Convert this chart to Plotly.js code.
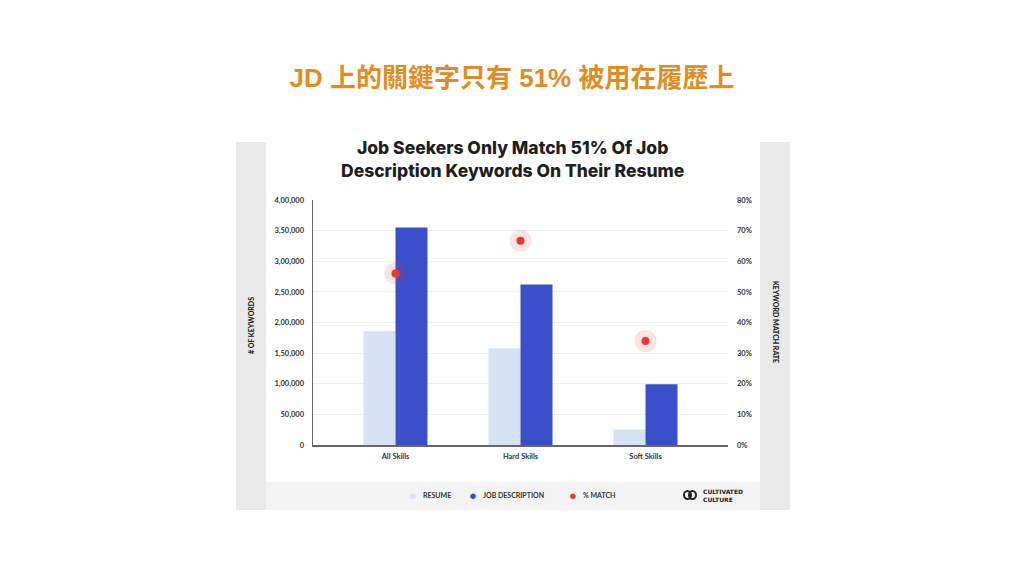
<!DOCTYPE html>
<html><head><meta charset="utf-8">
<script src="https://cdn.plot.ly/plotly-3.0.1.min.js"></script>
<style>html,body{margin:0;padding:0;background:#fff}#chart{width:1024px;height:582px}</style>
</head><body><div id="chart"></div>
<script>
// ---- data ----
const categories = ['All Skills', 'Hard Skills', 'Soft Skills'];
const resumeKeywords = [186000, 158000, 25500];
const jdKeywords = [355000, 262000, 99000];
const matchRate = [56, 66.7, 34];
const leftTickVals = [0, 50000, 100000, 150000, 200000, 250000, 300000, 350000, 400000];
const leftTickText = ['0', '50,000', '1,00,000', '1,50,000', '2,00,000', '2,50,000', '3,00,000', '3,50,000', '4,00,000'];
const rightTickVals = [0, 10, 20, 30, 40, 50, 60, 70, 80];
const rightTickText = ['0%', '10%', '20%', '30%', '40%', '50%', '60%', '70%', '80%'];
const legendLabels = ['RESUME', 'JOB DESCRIPTION', '% MATCH'];

// ---- layout geometry (pixels) ----
const W = 1024, H = 582;
const PL = 313, PR = 728, PT = 200, PB = 445;
const px2x = x => (x - PL) / (PR - PL);
const px2y = y => (PB - y) / (PB - PT);

const cResume = '#d5e3f5', cJD = '#3a4fc8', cMatch = '#e53a30', cHalo = 'rgba(229,58,48,0.14)';
const tickFont = {family: 'Lato, "Open Sans", sans-serif', size: 7.5, color: '#333', weight: 700};
const lblFont = {family: 'Lato, sans-serif', size: 7, color: '#333', weight: 700};

function ann(x, y, text, font, extra) {
  return Object.assign({xref: 'paper', yref: 'paper', x: px2x(x), y: px2y(y), showarrow: false,
    xanchor: 'center', yanchor: 'middle', text: text, font: font}, extra || {});
}

const traces = [
  {type: 'bar', name: legendLabels[0], x: categories, y: resumeKeywords, marker: {color: cResume}, hoverinfo: 'y'},
  {type: 'bar', name: legendLabels[1], x: categories, y: jdKeywords, marker: {color: cJD}, hoverinfo: 'y'},
  {type: 'scatter', mode: 'markers', x: categories, y: matchRate, yaxis: 'y2',
   marker: {size: 22, color: cHalo}, hoverinfo: 'skip', showlegend: false},
  {type: 'scatter', mode: 'markers', name: legendLabels[2], x: categories, y: matchRate, yaxis: 'y2',
   marker: {size: 8, color: cMatch}}
];

const annotations = [
  ann(512, 159, 'Job Seekers Only Match 51% Of Job<br>Description Keywords On Their Resume',
    {family: 'Inter, "Open Sans", sans-serif', size: 17.5, color: '#1f1f1f', weight: 800}),
  ann(251, 326, '# OF KEYWORDS', {family: 'Lato, sans-serif', size: 7, color: '#222', weight: 900}, {textangle: -90}),
  ann(776, 322, 'KEYWORD MATCH RATE', {family: 'Lato, sans-serif', size: 7, color: '#222', weight: 900}, {textangle: 90}),
  // legend
  ann(413, 495, '●', {size: 13, color: cResume}),
  ann(421, 495, legendLabels[0], lblFont, {xanchor: 'left'}),
  ann(473, 495, '●', {size: 13, color: cJD}),
  ann(481, 495, legendLabels[1], lblFont, {xanchor: 'left'}),
  ann(573, 495, '●', {size: 13, color: cMatch}),
  ann(581, 495, legendLabels[2], lblFont, {xanchor: 'left'}),
  ann(701, 495, 'CULTIVATED<br>CULTURE', {family: '"DejaVu Sans", sans-serif', size: 6, color: '#222', weight: 700},
    {xanchor: 'left', align: 'left'})
];

const shapes = [
  {type: 'rect', xref: 'paper', yref: 'paper', layer: 'below', x0: px2x(236), x1: px2x(266), y0: px2y(510), y1: px2y(142), fillcolor: '#e9e9e9', line: {width: 0}},
  {type: 'rect', xref: 'paper', yref: 'paper', layer: 'below', x0: px2x(760), x1: px2x(790), y0: px2y(510), y1: px2y(142), fillcolor: '#e9e9e9', line: {width: 0}},
  {type: 'rect', xref: 'paper', yref: 'paper', layer: 'below', x0: px2x(266), x1: px2x(760), y0: px2y(510), y1: px2y(482), fillcolor: '#f3f3f3', line: {width: 0}},
  // logo glyph
  {type: 'circle', xref: 'paper', yref: 'paper', x0: px2x(684), x1: px2x(691), y0: px2y(499), y1: px2y(491), line: {color: '#222', width: 2}},
  {type: 'circle', xref: 'paper', yref: 'paper', x0: px2x(689), x1: px2x(696), y0: px2y(499), y1: px2y(491), line: {color: '#222', width: 2}}
];

const layout = {
  width: W, height: H,
  paper_bgcolor: '#fff', plot_bgcolor: '#fff',
  margin: {l: PL, r: W - PR, t: PT, b: H - PB, pad: 0},
  showlegend: false,
  title: {text: '<b>JD 上的關鍵字只有 51% 被用在履歷上</b>', x: 0.5, xanchor: 'center', y: 1 - 78 / H, yanchor: 'middle',
    font: {family: '"Liberation Sans", "Noto Sans CJK TC", sans-serif', size: 26, color: '#e08c24'}},
  barmode: 'group', bargap: 0.488, bargroupgap: 0,
  xaxis: {type: 'category', range: [-0.66, 2.66], showgrid: false, showline: true, linecolor: '#666', linewidth: 1.5,
    ticks: '', ticklabelstandoff: 3, tickfont: {family: 'Lato, sans-serif', size: 7.5, color: '#333', weight: 700}, fixedrange: true, zeroline: false},
  yaxis: {range: [0, 400000], tickvals: leftTickVals, ticktext: leftTickText, showline: true, linecolor: '#666', linewidth: 1.5,
    gridcolor: '#f0f0f0', gridwidth: 1, zeroline: false, ticks: '', ticklabelstandoff: 6, tickfont: tickFont},
  yaxis2: {overlaying: 'y', side: 'right', range: [0, 80], tickvals: rightTickVals, ticktext: rightTickText,
    showgrid: false, zeroline: false, showline: false, ticks: '', ticklabelstandoff: 8, tickfont: tickFont},
  annotations: annotations,
  shapes: shapes
};

Plotly.newPlot('chart', traces, layout, {displayModeBar: false, staticPlot: true});
</script>
</body></html>
